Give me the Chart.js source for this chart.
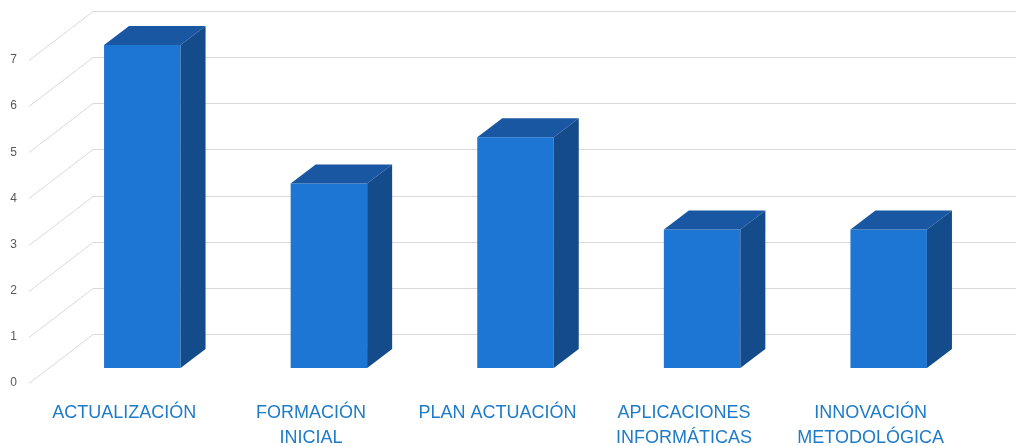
<!DOCTYPE html>
<html>
<head>
<meta charset="utf-8">
<script src="https://cdn.jsdelivr.net/npm/chart.js@4"></script>
<style>
  html, body { margin: 0; padding: 0; background: #fff; }
  #wrap { width: 1016px; height: 446px; }
</style>
</head>
<body>
<div id="wrap"><canvas id="bar3d"></canvas></div>
<script>
const categories = [
  "ACTUALIZACIÓN",
  ["FORMACIÓN", "INICIAL"],
  "PLAN ACTUACIÓN",
  ["APLICACIONES", "INFORMÁTICAS"],
  ["INNOVACIÓN", "METODOLÓGICA"],
];
const values = [7, 4, 5, 3, 3];
const yTicks = [0, 1, 2, 3, 4, 5, 6, 7];

const FRONT = "#1E76D4";
const TOP = "#1957A3";
const SIDE = "#134B8B";
const GRID = "#d9d9d9";

// depth of the bars and of the back wall, in pixels
const BAR_DX = 25, BAR_DY = 19;
const WALL_DX = 64, WALL_DY = 34, LABEL_DY = 15;

const wallPlugin = {
  id: "wall3d",
  beforeDatasetsDraw(chart) {
    const ctx = chart.ctx;
    const y = chart.scales.y;
    const left = chart.chartArea.left - 20;
    ctx.save();
    ctx.strokeStyle = GRID;
    ctx.lineWidth = 1;
    yTicks.forEach(v => {
      const py = Math.round(y.getPixelForValue(v)) + 0.5;
      ctx.beginPath();
      ctx.moveTo(left, py + LABEL_DY);
      ctx.lineTo(left + WALL_DX, py - WALL_DY);
      ctx.lineTo(chart.width, py - WALL_DY);
      ctx.stroke();
    });
    ctx.restore();
  },
  afterDatasetsDraw(chart) {
    const ctx = chart.ctx;
    const meta = chart.getDatasetMeta(0);
    ctx.save();
    meta.data.forEach(bar => {
      const p = bar.getProps(["x", "y", "base", "width"], true);
      const l = p.x - p.width / 2, r = p.x + p.width / 2;
      // top face
      ctx.fillStyle = TOP;
      ctx.beginPath();
      ctx.moveTo(l, p.y);
      ctx.lineTo(l + BAR_DX, p.y - BAR_DY);
      ctx.lineTo(r + BAR_DX, p.y - BAR_DY);
      ctx.lineTo(r, p.y);
      ctx.closePath();
      ctx.fill();
      // side face
      ctx.fillStyle = SIDE;
      ctx.beginPath();
      ctx.moveTo(r, p.y);
      ctx.lineTo(r + BAR_DX, p.y - BAR_DY);
      ctx.lineTo(r + BAR_DX, p.base - BAR_DY);
      ctx.lineTo(r, p.base);
      ctx.closePath();
      ctx.fill();
    });
    ctx.restore();
  },
};

const config = {
  type: "bar",
  data: {
    labels: categories,
    datasets: [{
      data: values,
      backgroundColor: FRONT,
      borderWidth: 0,
      barPercentage: 0.41,
      categoryPercentage: 1,
    }],
  },
  options: {
    responsive: true,
    maintainAspectRatio: false,
    animation: false,
    layout: { padding: { top: 45, right: 34, left: 0, bottom: 0 } },
    plugins: {
      legend: { display: false },
      tooltip: { enabled: false },
    },
    scales: {
      x: {
        grid: { display: false, drawTicks: false },
        border: { display: false },
        afterFit(scale) { scale.height = 78; },
        ticks: {
          color: "#1E7BC8",
          font: { family: "'Liberation Sans', Arial, sans-serif", size: 18, lineHeight: 1.4 },
          padding: 32,
          labelOffset: -18,
          maxRotation: 0,
          autoSkip: false,
        },
      },
      y: {
        min: 0,
        max: 7,
        grid: { display: false, drawTicks: false },
        border: { display: false },
        afterFit(scale) { scale.width = 49; },
        ticks: {
          stepSize: 1,
          color: "#595959",
          font: { family: "'Liberation Sans', Arial, sans-serif", size: 12 },
          padding: 32,
          labelOffset: LABEL_DY,
        },
      },
    },
  },
  plugins: [wallPlugin],
};

var ctx = document.getElementById("bar3d").getContext("2d");
var myChart = new Chart(ctx, config);
</script>
</body>
</html>
